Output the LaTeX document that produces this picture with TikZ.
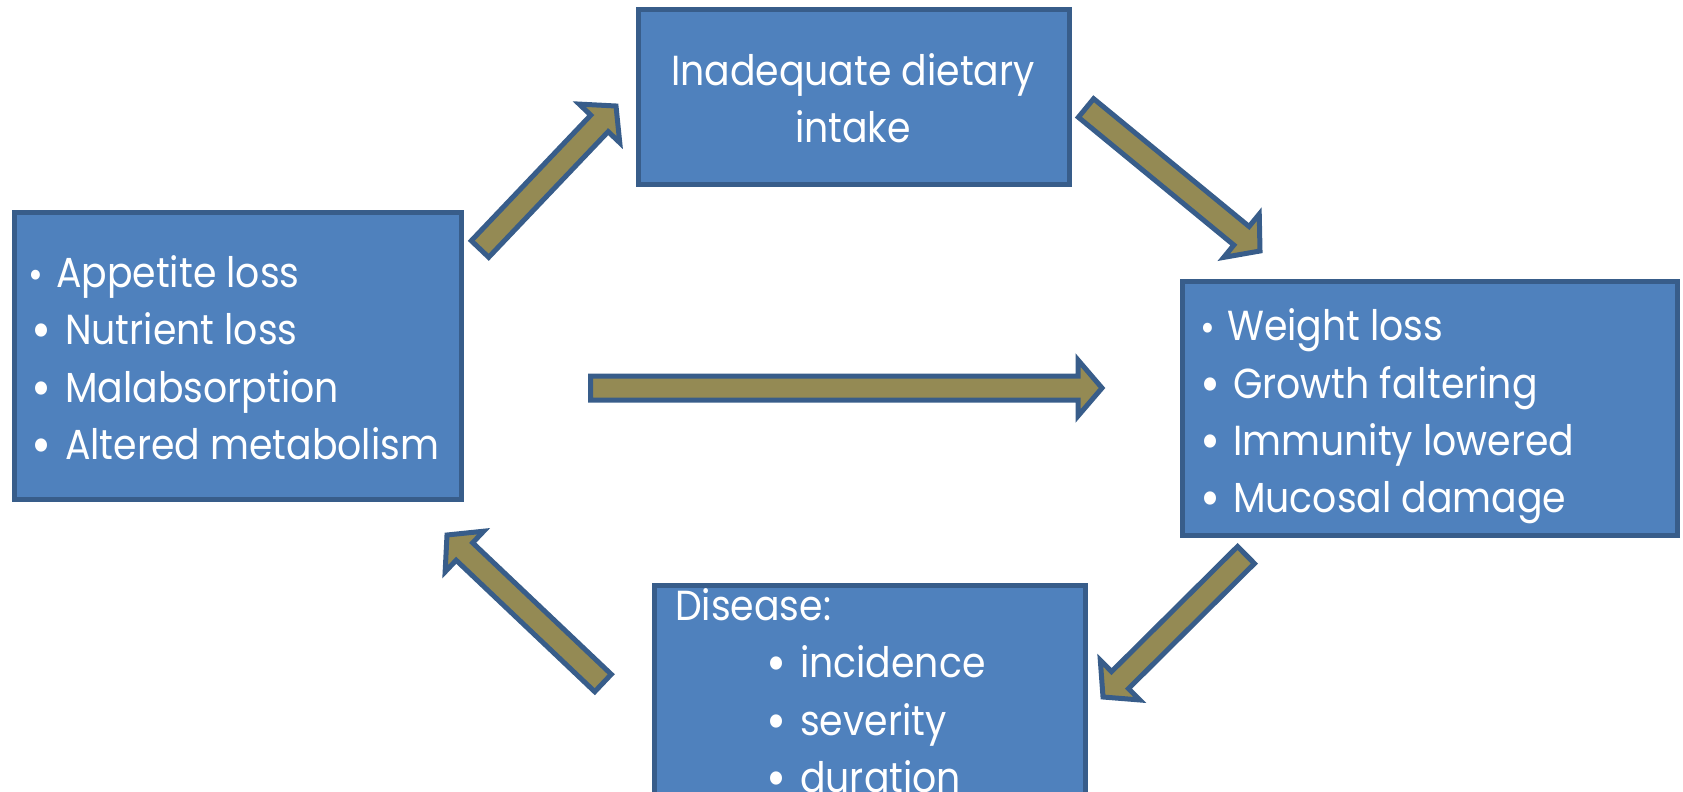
\documentclass[tikz,border=0pt]{standalone}
\usepackage{fontspec}
\setmainfont{Poppins}[FakeStretch=0.9]
\usetikzlibrary{calc}
\definecolor{boxfill}{HTML}{4F81BD}
\definecolor{boxline}{HTML}{385D8A}
\definecolor{arrfill}{HTML}{948A54}
\tikzset{
  box/.style={draw=boxline, fill=boxfill, line width=5pt, line join=miter, rectangle, inner sep=0pt},
  arrowshape/.style={draw=boxline, fill=arrfill, line width=5pt, line join=miter},
  txt/.style={text=white, inner sep=0pt, font=\fontsize{42}{50}\selectfont},
  tl/.style={txt, anchor=base west},
  tc/.style={txt, anchor=base},
  bul/.style={text=white, inner sep=0pt, anchor=base, font=\fontsize{54}{60}\selectfont},
  sbul/.style={text=white, inner sep=0pt, anchor=base, font=\fontsize{40}{48}\selectfont},
}
\newcommand{\blockarrow}[3]{%
  \coordinate (#1h) at ($(#3)!24pt!(#2)$);
  \filldraw[arrowshape] ($(#2)!12pt!90:(#3)$) -- ($(#1h)!12pt!90:(#3)$) -- ($(#1h)!28pt!90:(#3)$) -- (#3)
    -- ($(#1h)!28pt!-90:(#3)$) -- ($(#1h)!12pt!-90:(#3)$) -- ($(#2)!12pt!-90:(#3)$) -- cycle;
}
\begin{document}
\begin{tikzpicture}[x=1pt,y=-1pt]
\useasboundingbox (0,0) rectangle (1683,792);
\clip (0,0) rectangle (1683,792);
% boxes
\node[box, minimum width=431pt, minimum height=175pt] (top) at (854,97) {};
\node[box, minimum width=447pt, minimum height=287pt] (left) at (238,356) {};
\node[box, minimum width=495pt, minimum height=254pt] (right) at (1430,408.5) {};
\node[box, minimum width=431pt, minimum height=242pt] (bottom) at (870,706.5) {};
% top text
\node[tc] (t1) at (853,85) {Inadequate dietary};
\node[tc] (t2) at (853,142) {intake};
% left text
\node[sbul] (lb1) at (36,288) {•};
\node[tl] (l1) at (56,287) {Appetite loss};
\node[bul] (lb2) at (42,348) {•};
\node[tl] (l2) at (65,344) {Nutrient loss};
\node[bul] (lb3) at (42,406) {•};
\node[tl] (l3) at (65,402) {Malabsorption};
\node[bul] (lb4) at (42,463) {•};
\node[tl] (l4) at (65,459) {Altered metabolism};
% right text
\node[sbul] (rb1) at (1208,341) {•};
\node[tl] (r1) at (1227,340) {Weight loss};
\node[bul] (rb2) at (1210,402) {•};
\node[tl] (r2) at (1233,398) {Growth faltering};
\node[bul] (rb3) at (1210,459) {•};
\node[tl] (r3) at (1233,455) {Immunity lowered};
\node[bul] (rb4) at (1210,516) {•};
\node[tl] (r4) at (1233,512) {Mucosal damage};
% bottom text
\node[tl] (d0) at (675,620) {Disease:};
\node[bul] (db1) at (777,681) {•};
\node[tl] (d1) at (800,677) {incidence};
\node[bul] (db2) at (777,739) {•};
\node[tl] (d2) at (800,735) {severity};
\node[bul] (db3) at (777,796) {•};
\node[tl] (d3) at (800,792) {duration};
% arrow ends
\coordinate (a1s) at (480,249); \coordinate (a1e) at (616,106);
\coordinate (a2s) at (1086,108); \coordinate (a2e) at (1260,251);
\coordinate (a3s) at (1246,555); \coordinate (a3e) at (1103,697);
\coordinate (a4s) at (603,683); \coordinate (a4e) at (447,535);
\coordinate (a5s) at (590.5,388); \coordinate (a5e) at (1102,388);
\blockarrow{a1}{a1s}{a1e}
\blockarrow{a2}{a2s}{a2e}
\blockarrow{a3}{a3s}{a3e}
\blockarrow{a4}{a4s}{a4e}
\blockarrow{a5}{a5s}{a5e}
\end{tikzpicture}
\end{document}
